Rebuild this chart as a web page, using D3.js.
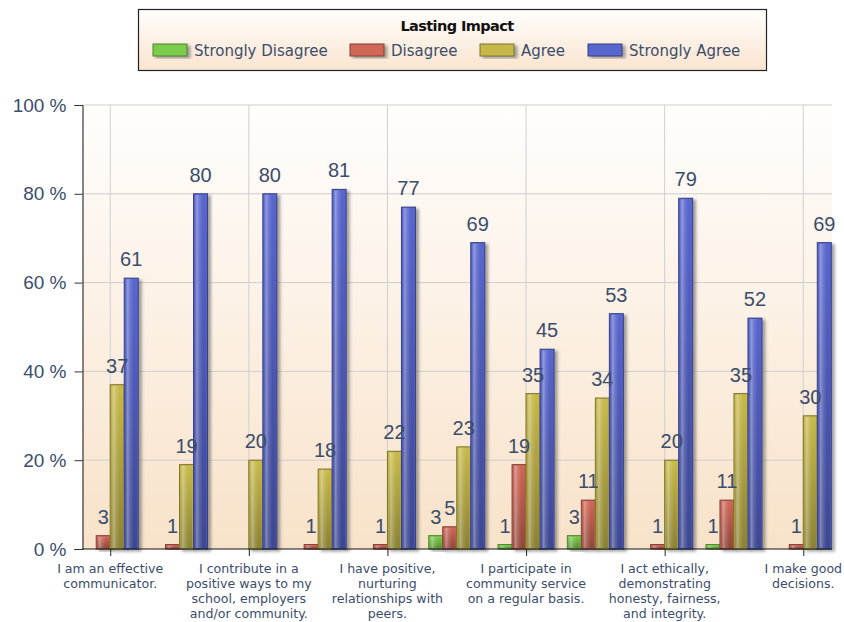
<!DOCTYPE html>
<html><head><meta charset="utf-8">
<script src="https://cdn.jsdelivr.net/npm/d3@7/dist/d3.min.js"></script>
<style>body{margin:0;background:#fff;}svg{display:block;font-family:"Liberation Sans",Arial,sans-serif;}</style>
</head><body><svg id="c" width="844" height="622"></svg>
<script>
const chartTitle = "Lasting Impact";
const seriesNames = ["Strongly Disagree","Disagree","Agree","Strongly Agree"];
const seriesColors = ["#7ccc4c","#cf6657","#c7b949","#5866cf"];
const stronglyDisagree = [0,0,0,0,0,3,1,3,0,1,0];
const disagree        = [3,1,0,1,1,5,19,11,1,11,1];
const agree           = [37,19,20,18,22,23,35,34,20,35,30];
const stronglyAgree   = [61,80,80,81,77,69,45,53,79,52,69];
const tickIndex = [0,2,4,6,8,10];
const tickLabels = [
  ["I am an effective","communicator."],
  ["I contribute in a","positive ways to my","school, employers","and/or community."],
  ["I have positive,","nurturing","relationships with","peers."],
  ["I participate in","community service","on a regular basis."],
  ["I act ethically,","demonstrating","honesty, fairness,","and integrity."],
  ["I make good","decisions."]
];
const yTicks = [0,20,40,60,80,100];
const series = [stronglyDisagree, disagree, agree, stronglyAgree];

const svg = d3.select("#c");
const L = 82.5, R = 832, T = 105, B = 549;
const x = d3.scaleLinear().domain([-0.4, 10.4]).range([L, 831]);
const y = d3.scaleLinear().domain([0,100]).range([B, T]);
const inner = d3.scaleBand().domain(d3.range(4)).range([-0.404, 0.404]);
const txtCol = "#3b4d6b";

const defs = svg.append("defs");
const pg = defs.append("linearGradient").attr("id","plotbg").attr("x1",0).attr("y1",0).attr("x2",0).attr("y2",1);
pg.append("stop").attr("offset","0%").attr("stop-color","#fffefd");
pg.append("stop").attr("offset","100%").attr("stop-color","#f8e2c9");
const lg = defs.append("linearGradient").attr("id","legbg").attr("x1",0).attr("y1",0).attr("x2",0).attr("y2",1);
lg.append("stop").attr("offset","0%").attr("stop-color","#fffefd");
lg.append("stop").attr("offset","100%").attr("stop-color","#fae4cf");
const hl = defs.append("linearGradient").attr("id","hl").attr("x1",0).attr("y1",0).attr("x2",1).attr("y2",0);
[[0,0],[0.2,0.35],[0.4,0.15],[0.7,0],[1,0]].forEach(([o,a])=>hl.append("stop").attr("offset",o).attr("stop-color","#fff").attr("stop-opacity",a));
const sh = defs.append("linearGradient").attr("id","vs").attr("x1",0).attr("y1",0).attr("x2",0).attr("y2",1);
sh.append("stop").attr("offset","0%").attr("stop-color","#000").attr("stop-opacity",0);
sh.append("stop").attr("offset","100%").attr("stop-color","#000").attr("stop-opacity",0.3);
const f = defs.append("filter").attr("id","shadow").attr("x","-50%").attr("y","-10%").attr("width","200%").attr("height","130%");
f.append("feDropShadow").attr("dx",3).attr("dy",2).attr("stdDeviation",1.6).attr("flood-color","#555").attr("flood-opacity",0.55);

// plot bg
svg.append("rect").attr("x",L).attr("y",T).attr("width",R-L).attr("height",B-T).attr("fill","url(#plotbg)");
// grid
svg.append("g").selectAll("line").data(yTicks.slice(1)).join("line")
  .attr("x1",L).attr("x2",R).attr("y1",d=>y(d)).attr("y2",d=>y(d)).attr("stroke","#cfcfcf").attr("stroke-width",1);
svg.append("g").selectAll("line").data(tickIndex).join("line")
  .attr("x1",d=>x(d)).attr("x2",d=>x(d)).attr("y1",T).attr("y2",B).attr("stroke","#cfcfcf").attr("stroke-width",1);

// bars
const bars = svg.append("g");
const bw = x(inner.bandwidth()) - x(0);
series.forEach((vals,si)=>{
  const col = d3.color(seriesColors[si]);
  const g = bars.append("g");
  const data = vals.map((v,i)=>({v,i})).filter(d=>d.v>0);
  const gb = g.selectAll("g").data(data).join("g");
  gb.append("rect").attr("x",d=>x(d.i+inner(si))).attr("y",d=>y(d.v)).attr("width",bw).attr("height",d=>B-y(d.v))
    .attr("fill",col.formatHex()).attr("stroke",col.darker(1.3).formatHex()).attr("stroke-width",1).attr("filter","url(#shadow)");
  gb.append("rect").attr("x",d=>x(d.i+inner(si))+1).attr("y",d=>y(d.v)+1).attr("width",bw-2).attr("height",d=>Math.max(0,B-y(d.v)-2))
    .attr("fill","url(#vs)");
  gb.append("rect").attr("x",d=>x(d.i+inner(si))+1).attr("y",d=>y(d.v)+1).attr("width",bw-2).attr("height",d=>Math.max(0,B-y(d.v)-2))
    .attr("fill","url(#hl)");
});
// labels
const labs = svg.append("g").attr("font-size",20).attr("fill",txtCol).attr("text-anchor","middle");
series.forEach((vals,si)=>{
  labs.selectAll(null).data(vals.map((v,i)=>({v,i})).filter(d=>d.v>0)).join("text")
    .attr("x",d=>x(d.i+inner(si))+bw/2).attr("y",d=>y(d.v)-12).text(d=>d.v);
});

// axes
const ya = svg.append("g").attr("transform",`translate(${L},0)`)
  .call(d3.axisLeft(y).tickValues(yTicks).tickSize(8).tickFormat(d=>d+" %"));
ya.select(".domain").attr("stroke","#111");
ya.selectAll(".tick line").attr("stroke","#333");
ya.selectAll(".tick text").attr("font-size",19).attr("fill",txtCol).attr("font-family","Liberation Sans, Arial, sans-serif").attr("dx",-5);
const xa = svg.append("g").attr("transform",`translate(0,${B})`)
  .call(d3.axisBottom(x).tickValues(tickIndex).tickSize(7).tickFormat(""));
xa.select(".domain").attr("d",`M${L},0H${R}`).attr("stroke","#111");
xa.selectAll(".tick line").attr("stroke","#222");
const xl = svg.append("g").attr("font-size",12.6).attr("font-family","DejaVu Sans, Verdana, sans-serif").attr("fill",txtCol).attr("text-anchor","middle");
tickIndex.forEach((ti,k)=>{
  const t = xl.append("text").attr("x",x(ti)).attr("y",B+24);
  tickLabels[k].forEach((ln,j)=>t.append("tspan").attr("x",x(ti)).attr("dy",j?15:0).text(ln));
});

// legend
const lgG = svg.append("g");
lgG.append("rect").attr("x",138.5).attr("y",9.5).attr("width",628).attr("height",61)
  .attr("fill","url(#legbg)").attr("stroke","#222").attr("stroke-width",1.2);
lgG.append("text").attr("x",457).attr("y",31).attr("text-anchor","middle").attr("font-size",14.5).attr("font-weight","bold")
  .attr("font-family","DejaVu Sans, Verdana, sans-serif").attr("fill","#111").attr("letter-spacing",-0.6).text(chartTitle);
const legX = [153,350,480,588];
seriesNames.forEach((n,i)=>{
  const col = d3.color(seriesColors[i]);
  lgG.append("rect").attr("x",legX[i]).attr("y",44).attr("width",34).attr("height",12)
    .attr("fill",col.formatHex()).attr("stroke",col.darker(1.3).formatHex()).attr("filter","url(#shadow)");
  lgG.append("text").attr("x",legX[i]+41).attr("y",56).attr("font-size",15)
    .attr("font-family","DejaVu Sans, Verdana, sans-serif").attr("fill",txtCol).text(n);
});
</script></body></html>
